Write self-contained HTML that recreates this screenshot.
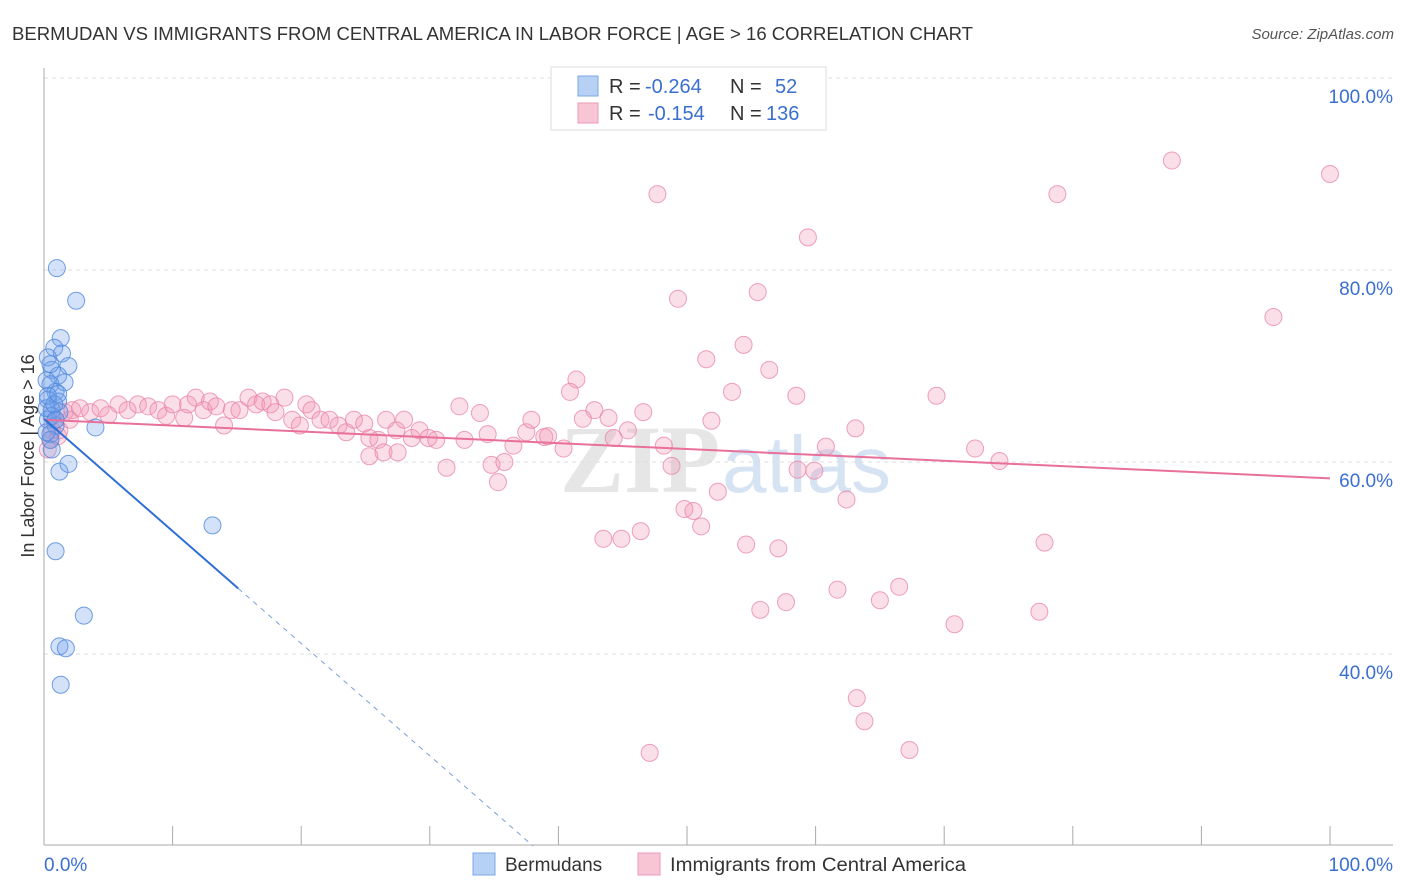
<!DOCTYPE html>
<html><head><meta charset="utf-8"><style>
body{margin:0;background:#fff;font-family:"Liberation Sans",sans-serif;}
svg{display:block}
</style></head><body>
<svg id="chart" width="1406" height="892" font-family="Liberation Sans, sans-serif">
<text x="12" y="40" font-size="18" fill="#333" textLength="961" lengthAdjust="spacingAndGlyphs">BERMUDAN VS IMMIGRANTS FROM CENTRAL AMERICA IN LABOR FORCE | AGE &gt; 16 CORRELATION CHART</text>
<text x="1394" y="39" font-size="15" fill="#555" text-anchor="end" font-style="italic">Source: ZipAtlas.com</text>
<text x="720" y="492" font-size="96" fill="#e6e6e6" text-anchor="end" font-family="Liberation Serif, serif" font-weight="bold">ZIP</text>
<text x="722" y="492" font-size="80" fill="#d6e3f3">atlas</text>
<g id="grid"></g>
<g id="marks"></g>
<text transform="translate(34,456) rotate(-90)" font-size="18" fill="#333" text-anchor="middle">In Labor Force | Age &gt; 16</text>
<g>
<rect x="551" y="67" width="275" height="63" fill="#fff" stroke="#ddd"/>
<rect x="578" y="76" width="20" height="20" fill="#b7d1f5" stroke="#7aa7e6"/>
<rect x="578" y="103" width="20" height="20" fill="#f8c5d4" stroke="#ec9ab4"/>
<text x="609" y="93" font-size="20" fill="#333">R = <tspan x="645" fill="#3a6fd0">-0.264</tspan><tspan x="730">N = </tspan><tspan x="775" fill="#3a6fd0">52</tspan></text>
<text x="609" y="120" font-size="20" fill="#333">R = <tspan x="648" fill="#3a6fd0">-0.154</tspan><tspan x="730">N = </tspan><tspan x="766" fill="#3a6fd0">136</tspan></text>
</g>
<g>
<rect x="473" y="853" width="22" height="22" fill="#b7d1f5" stroke="#7aa7e6"/>
<text x="505" y="871" font-size="19" fill="#333">Bermudans</text>
<rect x="638" y="853" width="22" height="22" fill="#f8c5d4" stroke="#ec9ab4"/>
<text x="670" y="871" font-size="19" fill="#333" textLength="296" lengthAdjust="spacingAndGlyphs">Immigrants from Central America</text>
</g>
</svg>
<script>
const yTicks=[40,60,80,100];
const yTickLabels=["40.0%","60.0%","80.0%","100.0%"];
const xTicks=[0,10,20,30,40,50,60,70,80,90,100];
const xEndLabels=["0.0%","100.0%"];
const blueX=[1.0,2.5,1.3,0.8,1.4,0.3,1.9,0.6,1.1,1.6,0.5,0.9,0.3,1.1,0.6,1.2,0.3,0.9,0.5,4.0,1.2,1.9,0.6,13.1,0.9,3.1,1.2,1.7,1.3,0.5,0.2,0.6,0.3,0.2,0.8,0.9,0.5,0.2,1.1];
const blueY=[80.2,76.8,72.9,71.9,71.3,70.9,70.0,69.6,69.0,68.3,68.1,67.3,66.5,66.3,65.4,65.2,64.4,63.8,62.9,63.6,59.0,59.8,61.3,53.4,50.7,44.0,40.8,40.6,36.8,62.3,63.1,64.8,66.9,65.6,66.0,64.4,70.2,68.5,67.1];
const pinkX=[47.7,87.7,100,78.8,59.4,49.3,55.5,95.6,51.5,54.4,56.4,41.4,53.5,58.5,69.4,40.9,32.3,42.8,46.6,51.9,41.9,43.9,63.1,60.8,72.4,74.3,48.2,45.4,44.3,40.4,38.9,37.5,33.9,34.5,32.7,31.3,34.8,35.8,35.3,36.5,37.9,39.2,48.8,58.6,59.9,62.4,52.4,49.8,50.5,51.1,46.4,43.5,44.9,54.6,57.1,77.8,61.7,66.5,65.0,57.7,55.7,70.8,77.4,63.2,63.8,67.3,47.1,
1.2,1.6,2.2,2.8,3.6,4.4,5.0,5.8,6.5,7.3,8.1,8.9,9.5,10.0,10.9,11.2,11.8,12.4,12.9,13.4,14.0,14.6,15.2,15.9,16.5,17.0,17.6,18.0,18.7,19.3,19.9,20.4,20.8,21.5,22.2,22.9,23.5,24.1,24.9,25.3,26.0,26.6,27.4,28.0,28.6,29.2,29.9,30.5,25.3,26.4,27.5,0.5,0.9,0.3,0.6,1.1,2.0];
const pinkY=[87.9,91.4,90,87.9,83.4,77.0,77.7,75.1,70.7,72.2,69.6,68.6,67.3,66.9,66.9,67.3,65.8,65.4,65.2,64.3,64.5,64.6,63.5,61.6,61.4,60.1,61.7,63.3,62.5,61.4,62.6,63.1,65.1,62.9,62.3,59.4,59.7,60.0,57.9,61.7,64.4,62.7,59.6,59.2,59.1,56.1,56.9,55.1,54.9,53.3,52.8,52.0,52.0,51.4,51.0,51.6,46.7,47.0,45.6,45.4,44.6,43.1,44.4,35.4,33.0,30.0,29.7,
63.3,65.2,65.4,65.6,65.2,65.6,64.9,66.0,65.4,66.0,65.8,65.4,64.8,66.0,64.6,66.0,66.7,65.4,66.3,65.8,63.8,65.4,65.4,66.7,66.0,66.3,66.0,65.2,66.7,64.4,63.8,66.0,65.4,64.4,64.4,63.8,63.1,64.4,64.0,62.5,62.3,64.4,63.3,64.4,62.5,63.3,62.5,62.3,60.6,61.0,61.0,62.3,64.4,61.3,63.3,62.7,64.4];
const blueTrend=[64.5,-1.17];
const pinkTrend=[64.4,-0.061];
const NS="http://www.w3.org/2000/svg";
const sx=v=>44+v*12.86;
const sy=v=>462-(v-60)*9.6;
const grid=document.getElementById('grid'),marks=document.getElementById('marks');
function mk(tag,attrs,parent){const e=document.createElementNS(NS,tag);for(const k in attrs)e.setAttribute(k,attrs[k]);parent.appendChild(e);return e;}
yTicks.forEach((t,i)=>{
 const l=mk('line',{x1:44,x2:1393,y1:sy(t),y2:sy(t),stroke:'#ddd','stroke-dasharray':'4,4'},grid);
 
 
 const tx=mk('text',{x:1393,y:sy(t)+25,'font-size':19,fill:'#3a6fd0','text-anchor':'end'},grid);
 tx.textContent=yTickLabels[i];
 
 
});
const ax=mk('line',{x1:44,x2:44,y1:68,y2:845,stroke:'#aaa'},grid);


const bx=mk('line',{x1:44,x2:1393,y1:845,y2:845,stroke:'#aaa'},grid);


xTicks.forEach(t=>{
 const l=mk('line',{x1:sx(t),x2:sx(t),y1:826,y2:845,stroke:'#aaa'},grid);
 
 
});
[[0,'start'],[100,'end']].forEach((p,i)=>{
 const tx=mk('text',{x:i?1393:44,y:871,'font-size':19,fill:'#3a6fd0','text-anchor':p[1]},grid);
 tx.textContent=xEndLabels[i];
 
 
});
pinkX.forEach((x,i)=>{
 const c=mk('circle',{cx:sx(x),cy:sy(pinkY[i]),r:8.5,fill:'rgba(242,150,180,0.3)',stroke:'rgba(232,130,165,0.75)','stroke-width':1},marks);
 
 
});
blueX.forEach((x,i)=>{
 const c=mk('circle',{cx:sx(x),cy:sy(blueY[i]),r:8.5,fill:'rgba(110,160,235,0.3)',stroke:'rgba(80,135,220,0.8)','stroke-width':1},marks);
 
 
});
const pl=mk('line',{x1:sx(0),y1:sy(pinkTrend[0]),x2:sx(100),y2:sy(pinkTrend[0]+pinkTrend[1]*100),stroke:'#e8709a','stroke-width':2},marks);


const xs=15.1,xe=(20-blueTrend[0])/blueTrend[1];
const b1=mk('line',{x1:sx(0),y1:sy(blueTrend[0]),x2:sx(xs),y2:sy(blueTrend[0]+blueTrend[1]*xs),stroke:'#2f6fd6','stroke-width':2},marks);


const b2=mk('line',{x1:sx(xs),y1:sy(blueTrend[0]+blueTrend[1]*xs),x2:sx(xe),y2:sy(20),stroke:'#7a9fd8','stroke-width':1,'stroke-dasharray':'5,5'},marks);


</script>
</body></html>
